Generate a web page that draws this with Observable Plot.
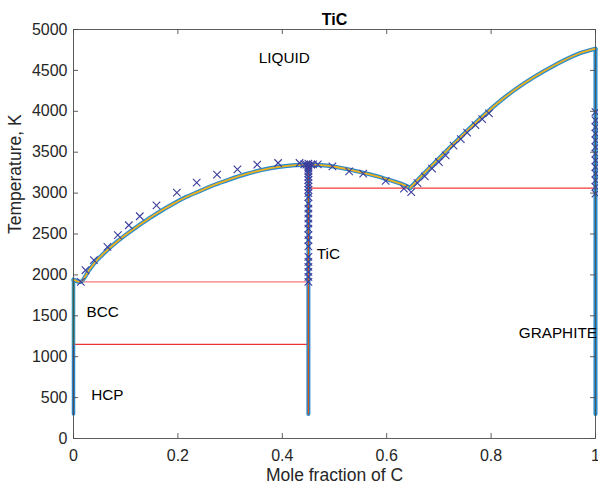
<!DOCTYPE html>
<html>
<head>
<meta charset="utf-8">
<script src="https://cdn.jsdelivr.net/npm/d3@7"></script>
<script src="https://cdn.jsdelivr.net/npm/@observablehq/plot@0.6"></script>
<style>
  html, body { margin: 0; padding: 0; background: #fff; }
  #chart svg { display: block; }
</style>
</head>
<body>
<div id="chart"></div>
<script>
// ---------- data ----------
const titleText = "TiC";
const xLabel = "Mole fraction of C";
const yLabel = "Temperature, K";

const xTicks = [0, 0.2, 0.4, 0.6, 0.8, 1];
const xTickLabels = ["0", "0.2", "0.4", "0.6", "0.8", "1"];
const yTicks = [0, 500, 1000, 1500, 2000, 2500, 3000, 3500, 4000, 4500, 5000];
const yTickLabels = ["0", "500", "1000", "1500", "2000", "2500", "3000", "3500", "4000", "4500", "5000"];

// liquidus, Ti-rich side
const liqLeftX = [0, 0.013, 0.03, 0.045, 0.06, 0.085, 0.10, 0.125, 0.145, 0.167, 0.19, 0.215, 0.243, 0.27, 0.30, 0.33, 0.36, 0.39, 0.42, 0.45];
const liqLeftT = [1941, 1915, 2060, 2180, 2275, 2415, 2490, 2605, 2690, 2780, 2865, 2950, 3028, 3101, 3170, 3232, 3282, 3318, 3340, 3348];
// liquidus, TiC -> eutectic
const liqRightX = [0.45, 0.48, 0.50, 0.53, 0.555, 0.58, 0.60, 0.625, 0.645];
const liqRightT = [3348, 3338, 3322, 3285, 3248, 3208, 3170, 3120, 3065];
// liquidus, graphite side
const liqGraphX = [0.645, 0.66, 0.69, 0.72, 0.755, 0.79, 0.83, 0.88, 0.925, 0.97, 1.0];
const liqGraphT = [3065, 3165, 3360, 3550, 3768, 3975, 4190, 4410, 4575, 4710, 4765];

// single-phase vertical lines
const tiX = 0, tiTop = 1941, tiMid = 1150, tiBottom = 300;
const ticX = 0.45, ticTop = 3348, ticBottom = 300;
const cX = 1, cTop = 4765, cBottom = 300;

// invariant (red) lines: [x1, x2, T]
const redX1 = [0, 0, 0.45];
const redX2 = [0.45, 0.45, 1];
const redT = [1915, 1150, 3062];
const redColors = ["#f27a7a", "#ec3434", "#f23a3a"];

// experimental points
const crossLeftX = [0.014, 0.023, 0.039, 0.065, 0.085, 0.106, 0.127, 0.159, 0.198, 0.236, 0.275, 0.314, 0.352, 0.392, 0.433];
const crossLeftT = [1915, 2057, 2180, 2342, 2485, 2607, 2717, 2851, 3006, 3128, 3226, 3291, 3348, 3368, 3368];
const crossRightX = [0.468, 0.496, 0.528, 0.555, 0.598, 0.633, 0.647];
const crossRightT = [3352, 3327, 3266, 3238, 3150, 3055, 3013];
const crossGraphX = [0.659, 0.673, 0.687, 0.700, 0.713, 0.728, 0.742, 0.754, 0.770, 0.783, 0.796];
const crossGraphT = [3123, 3205, 3299, 3380, 3462, 3580, 3660, 3740, 3830, 3905, 3975];
const crossTiCX = [0.45, 0.45, 0.45, 0.45, 0.45, 0.45, 0.45, 0.45, 0.45, 0.45, 0.45, 0.45, 0.45, 0.45, 0.45,
                   0.45, 0.45, 0.45, 0.45, 0.45, 0.45, 0.45, 0.45, 0.45, 0.45, 0.45, 0.45, 0.45,
                   0.442, 0.446, 0.455, 0.459];
const crossTiCT = [1915, 1976, 2037, 2098, 2159, 2220, 2350, 2424, 2485, 2567, 2628, 2689, 2750, 2811, 2872,
                   2950, 3000, 3040, 3080, 3120, 3160, 3200, 3240, 3270, 3300, 3320, 3340, 3360,
                   3352, 3348, 3348, 3352];
const crossCX = [1, 1, 1, 1, 1, 1, 1, 1, 1, 1, 1, 1, 1];
const crossCT = [2994, 3075, 3156, 3238, 3319, 3400, 3482, 3563, 3645, 3727, 3807, 3889, 3990];

// phase labels
const phaseNames = ["LIQUID", "TiC", "BCC", "HCP", "GRAPHITE"];
const phaseX = [0.355, 0.466, 0.025, 0.034, 0.853];
const phaseT = [4650, 2253, 1548, 531, 1288];

// ---------- build tables ----------
const zip = (xs, ts) => xs.map((x, i) => ({x, T: ts[i]}));
const liqLeft = zip(liqLeftX, liqLeftT);
const liqRight = zip(liqRightX, liqRightT);
const liqGraph = zip(liqGraphX, liqGraphT);
const reds = redT.map((T, i) => ({x1: redX1[i], x2: redX2[i], T, c: redColors[i]}));
const crosses = [
  ...zip(crossLeftX, crossLeftT), ...zip(crossRightX, crossRightT),
  ...zip(crossGraphX, crossGraphT), ...zip(crossTiCX, crossTiCT), ...zip(crossCX, crossCT)
];
const phases = phaseNames.map((n, i) => ({n, x: phaseX[i], T: phaseT[i]}));
const tiUpper = [{x: tiX, T: tiMid}, {x: tiX, T: tiTop}];
const tiLower = [{x: tiX, T: tiBottom}, {x: tiX, T: tiMid}];
const tiFull = [{x: tiX, T: tiBottom}, {x: tiX, T: tiTop}];
const ticLine = [{x: ticX, T: ticBottom}, {x: ticX, T: ticTop}];
const cLine = [{x: cX, T: cBottom}, {x: cX, T: cTop}];

// ---------- layout ----------
const W = 598, H = 493;
const mL = 73, mR = 3, mT = 29, mB = 55;
const innerH = H - mT - mB, innerW = W - mL - mR;
const tick = 5;
const axisColor = "#4d4d4d";
const blueOuter = "#2a8bcc";
const yellowInner = "#EDB120";
const crossColor = "#3b3f9e";

const lineLayer = (data) => [
  Plot.line(data, {x: "x", y: "T", stroke: blueOuter, strokeWidth: 4.2, curve: "monotone-x"}),
  Plot.line(data, {x: "x", y: "T", stroke: yellowInner, strokeWidth: 1.8, curve: "monotone-x"})
];

const chart = Plot.plot({
  width: W, height: H,
  marginLeft: mL, marginRight: mR, marginTop: mT, marginBottom: mB,
  style: {fontFamily: "'Liberation Sans', Arial, Helvetica, sans-serif", fontSize: "16px", color: "#262626", background: "#fff"},
  x: {domain: [0, 1], label: null},
  y: {domain: [0, 5000], label: null},
  marks: [
    // invariant lines
    Plot.link(reds, {x1: "x1", x2: "x2", y1: "T", y2: "T", stroke: "c", strokeWidth: 1.3}),
    // Ti line
    Plot.line(tiFull, {x: "x", y: "T", stroke: "#1f8ad2", strokeWidth: 3.5}),
    Plot.line(tiUpper, {x: "x", y: "T", stroke: "#77AC30", strokeWidth: 1.5}),
    Plot.line(tiLower, {x: "x", y: "T", stroke: "#d23a3a", strokeWidth: 1.1}),
    // TiC line
    Plot.line(ticLine, {x: "x", y: "T", stroke: blueOuter, strokeWidth: 4}),
    Plot.line(ticLine, {x: "x", y: "T", stroke: "#D95319", strokeWidth: 1.2}),
    // graphite line
    Plot.line(cLine, {x: "x", y: "T", stroke: "#1f7fc4", strokeWidth: 4}),
    Plot.line(cLine, {x: "x", y: "T", stroke: "#4DBEEE", strokeWidth: 1.5}),
    // liquidus
    ...lineLayer(liqLeft),
    ...lineLayer(liqRight),
    ...lineLayer(liqGraph),
    // experimental crosses
    Plot.dot(crosses, {x: "x", y: "T", symbol: "times", r: 3.5, stroke: crossColor, strokeWidth: 1.1}),
    // box
    Plot.frame({stroke: axisColor, strokeWidth: 0.9}),
    // inward ticks
    Plot.ruleX(xTicks, {x: d => d, insetTop: innerH - tick, stroke: axisColor, strokeWidth: 0.9}),
    Plot.ruleX(xTicks, {x: d => d, insetBottom: innerH - tick, stroke: axisColor, strokeWidth: 0.9}),
    Plot.ruleY(yTicks, {y: d => d, insetRight: innerW - tick, stroke: axisColor, strokeWidth: 0.9}),
    Plot.ruleY(yTicks, {y: d => d, insetLeft: innerW - tick, stroke: axisColor, strokeWidth: 0.9}),
    // tick labels
    Plot.axisX({ticks: xTicks, tickFormat: d => xTickLabels[xTicks.indexOf(d)], tickSize: 0, tickPadding: 11, label: null, fill: "#262626"}),
    Plot.axisY({ticks: yTicks, tickFormat: d => yTickLabels[yTicks.indexOf(d)], tickSize: 0, tickPadding: 6, label: null, fill: "#262626"}),
    // phase labels
    Plot.text(phases, {x: "x", y: "T", text: "n", textAnchor: "start", fill: "#000", fontSize: 15.3}),
    // axis titles and chart title
    Plot.text([xLabel], {frameAnchor: "bottom", dy: 42, fontSize: 17.5, fill: "#262626"}),
    Plot.text([yLabel], {frameAnchor: "left", dx: -58, rotate: -90, fontSize: 17.5, fill: "#262626"}),
    Plot.text([titleText], {frameAnchor: "top", dy: -16, fontSize: 16, fontWeight: "bold", fill: "#000"})
  ]
});
document.getElementById("chart").appendChild(chart);
</script>
</body>
</html>
